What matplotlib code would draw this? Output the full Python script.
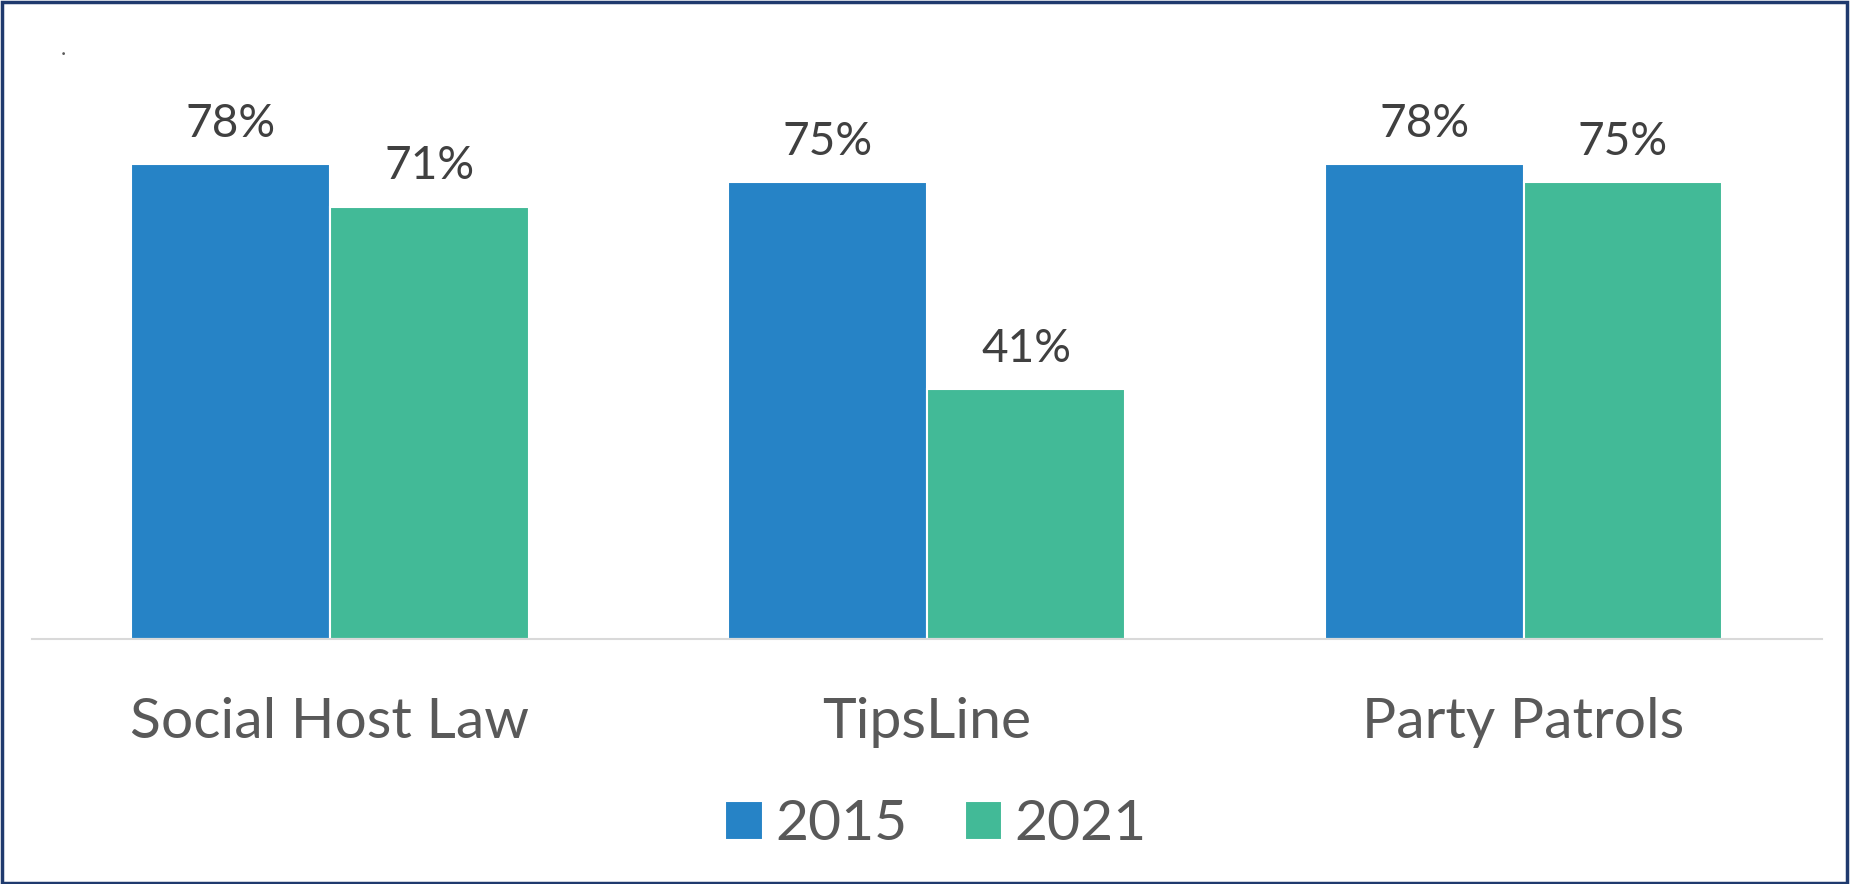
import matplotlib

matplotlib.use("Agg")
import matplotlib.pyplot as plt
import numpy as np
from matplotlib.patches import Rectangle

categories = ["Social Host Law", "TipsLine", "Party Patrols"]
years = ["2015", "2021"]
values_2015 = [78, 75, 78]
values_2021 = [71, 41, 75]

BLUE = "#2683C6"
GREEN = "#42BA97"
TEXT = "#595959"

plt.rcParams["font.family"] = ["Lato", "DejaVu Sans"]

W, H = 1851, 884
fig = plt.figure(figsize=(W / 100, H / 100), dpi=100)
ax = fig.add_axes([31.5 / W, (H - 639) / H, 1790.5 / W, (639 - 91) / H])

x = np.arange(len(categories))
width = 0.333
bars_a = ax.bar(x - width / 2, values_2015, width, color=BLUE, edgecolor="white",
                linewidth=1.5, label=years[0])
bars_b = ax.bar(x + width / 2, values_2021, width, color=GREEN, edgecolor="white",
                linewidth=1.5, label=years[1])

for bars in (bars_a, bars_b):
    for rect in bars:
        ax.annotate(f"{rect.get_height():.0f}%",
                    (rect.get_x() + rect.get_width() / 2, rect.get_height()),
                    xytext=(0, 14), textcoords="offset points",
                    ha="center", va="bottom", fontsize=33, color="#404040")

ax.set_xlim(-0.5, 2.5)
ax.set_ylim(0, 90)
ax.set_yticks([])
ax.set_xticks(x, categories, fontsize=41, color=TEXT)
ax.tick_params(axis="x", length=0, pad=42)
for side in ("top", "right", "left"):
    ax.spines[side].set_visible(False)
ax.spines["bottom"].set_color("#D9D9D9")
ax.spines["bottom"].set_linewidth(1.5)

fig.legend(handles=[bars_a, bars_b], labels=years, loc="center",
           bbox_to_anchor=(936 / W, 1 - 825 / H), ncol=2, frameon=False,
           fontsize=41, labelcolor=TEXT, handlelength=0.66, handleheight=0.66,
           handletextpad=0.22, columnspacing=1.0)

fig.text(63 / W, 1 - 55 / H, ".", fontsize=16, color=TEXT, ha="center", va="baseline")
fig.patches.append(Rectangle((0.001, 0.001), 0.997, 0.997, transform=fig.transFigure,
                             fill=False, edgecolor="#1F3A6E", linewidth=2.5))

fig.savefig("out.png", dpi=100)
